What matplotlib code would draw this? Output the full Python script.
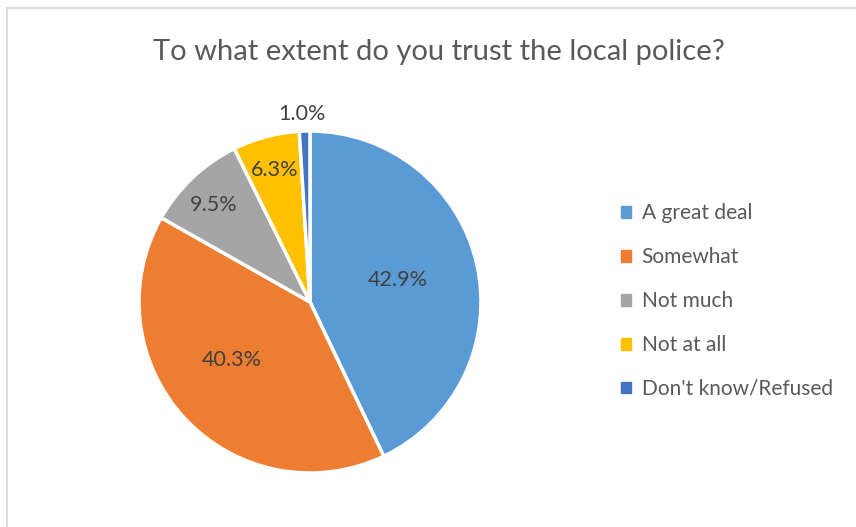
import matplotlib
matplotlib.use("Agg")
import matplotlib.pyplot as plt
import numpy as np
from matplotlib.lines import Line2D

categories = ["A great deal", "Somewhat", "Not much", "Not at all", "Don't know/Refused"]
values = [42.9, 40.3, 9.5, 6.3, 1.0]
colors = ["#5B9BD5", "#ED7D31", "#A5A5A5", "#FFC000", "#4472C4"]
label_dist = [0.53, 0.57, 0.80, 0.80, 1.10]
label_shift = [1.0, -6.5, 1.5, 0.0, 0.5]  # degrees off the wedge middle

plt.rcParams['font.family'] = ['Lato', 'DejaVu Sans']

W, H = 856, 527
fig = plt.figure(figsize=(W/100, H/100), dpi=100)

# chart frame (top-left corner visible)
fig.add_artist(Line2D([6.5/W, 6.5/W], [0, 1 - 8/H], transform=fig.transFigure, color="#D9D9D9", lw=1.3))
fig.add_artist(Line2D([6.5/W, 1], [1 - 8/H, 1 - 8/H], transform=fig.transFigure, color="#D9D9D9", lw=1.3))

cx, cy, r = 310, 302, 171
ax = fig.add_axes([(cx - r)/W, (H - cy - r)/H, 2*r/W, 2*r/H])
wedges, _ = ax.pie(values, colors=colors, startangle=90, counterclock=False,
                   wedgeprops=dict(edgecolor="white", linewidth=2.5))
ax.set_xlim(-1, 1); ax.set_ylim(-1, 1)
ax.set_aspect("auto")
ax.axis("off")

for w, v, d, s in zip(wedges, values, label_dist, label_shift):
    ang = np.deg2rad((w.theta1 + w.theta2) / 2 + s)
    ax.text(d*np.cos(ang), d*np.sin(ang), f"{v:.1f}%", ha="center", va="center",
            fontsize=15.5, color="#404040")

fig.text(439/W, 1 - 52/H, "To what extent do you trust the local police?", ha="center", va="center",
         fontsize=21, color="#595959")

handles = [plt.Rectangle((0, 0), 1, 1, color=c) for c in colors]
leg = fig.legend(handles, categories, loc="center left", bbox_to_anchor=(602/W, 1 - 301/H),
                 frameon=False, fontsize=15, handlelength=0.5, handleheight=0.5,
                 handletextpad=0.5, labelspacing=1.15, labelcolor="#595959")

fig.savefig("out.png", dpi=100)
